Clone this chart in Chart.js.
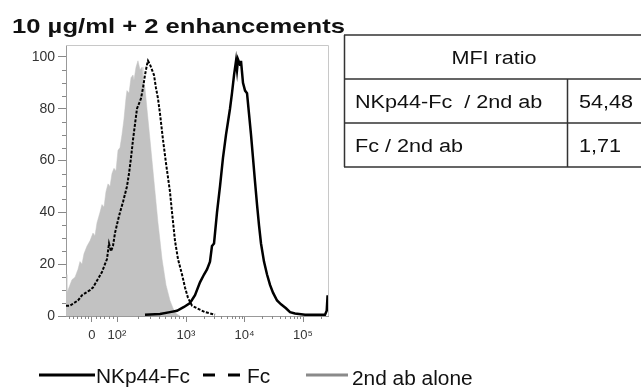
<!DOCTYPE html>
<html>
<head>
<meta charset="utf-8">
<script src="https://cdn.jsdelivr.net/npm/chart.js@4.4.0/dist/chart.umd.min.js"></script>
<style>
  html, body { margin: 0; padding: 0; background: #fff; }
  #wrap { width: 641px; height: 390px; }
</style>
</head>
<body>
<div id="wrap"><canvas id="histo" width="641" height="390"></canvas></div>
<script>
const titleText = '10 µg/ml + 2 enhancements';
const seriesNames = ['NKp44-Fc', 'Fc', '2nd ab alone'];

// x is in display units of the biexponential axis (10^3 = 3, 10^4 = 4, 10^5 = 5), y in % of mode
const nkpX = [2.299, 2.556, 2.726, 2.846, 2.966, 3.068, 3.154, 3.239, 3.308, 3.359, 3.41, 3.444, 3.479, 3.53,
  3.581, 3.632, 3.684, 3.718, 3.752, 3.786, 3.821, 3.855, 3.872, 3.889, 3.923, 3.94, 3.974, 4.009, 4.043,
  4.077, 4.111, 4.145, 4.179, 4.214, 4.248, 4.282, 4.333, 4.385, 4.436, 4.487, 4.556, 4.624, 4.709, 4.778,
  4.863, 5.034, 5.376, 5.405, 5.42];
const nkpY = [0.5, 0.8, 1.5, 2, 3.5, 5, 8, 13, 16, 18, 21, 27, 28, 40,
  50, 61, 70, 75, 80, 86, 93, 98.5, 95, 99, 97, 98.5, 90, 87, 86,
  78, 70, 61, 52, 43, 35, 28, 21, 16, 12, 9, 6, 4.5, 3, 1.5,
  1, 0.5, 0.5, 2, 8];

const fcX = [0.949, 1.017, 1.085, 1.154, 1.222, 1.291, 1.359, 1.41, 1.462, 1.513, 1.564, 1.615, 1.65, 1.684,
  1.718, 1.752, 1.786, 1.838, 1.872, 1.923, 1.957, 1.991, 2.026, 2.06, 2.094, 2.128, 2.162, 2.197, 2.231,
  2.265, 2.299, 2.333, 2.35, 2.385, 2.419, 2.453, 2.487, 2.521, 2.556, 2.607, 2.658, 2.726, 2.761, 2.812,
  2.863, 2.932, 2.983, 3.034, 3.103, 3.188, 3.325, 3.496];
const fcY = [4, 4, 5, 6, 8, 9, 10, 11, 13, 15, 17, 20, 22, 28,
  25, 27, 32, 37, 40, 44, 47, 50, 55, 61, 68, 74, 80, 82, 84,
  88, 93, 97, 98.5, 97, 95, 93, 88, 84, 78, 68, 59, 48, 40, 29,
  22, 16, 11, 7, 4, 3, 1.5, 0.5];

const abX = [0.949, 0.966, 1.0, 1.051, 1.103, 1.154, 1.188, 1.222, 1.256, 1.308, 1.359, 1.41, 1.444, 1.479,
  1.53, 1.564, 1.598, 1.632, 1.667, 1.701, 1.735, 1.769, 1.803, 1.838, 1.872, 1.906, 1.94, 1.974, 1.991,
  2.026, 2.06, 2.094, 2.111, 2.145, 2.179, 2.214, 2.248, 2.265, 2.299, 2.333, 2.35, 2.385, 2.419, 2.453,
  2.487, 2.521, 2.556, 2.59, 2.624, 2.658, 2.692, 2.726, 2.778, 2.829, 2.897];
const abY = [16, 9, 11, 14, 15, 18, 21, 20, 24, 27, 29, 32, 31, 36,
  40, 43, 42, 48, 51, 50, 55, 57, 56, 64, 65, 70, 76, 84, 87,
  86, 92, 93, 91, 96, 98.5, 95, 96, 91, 88, 80, 76, 68, 60, 52,
  44, 36, 29, 22, 17, 12, 9, 6, 3, 1, 0];

const xTickValues = [1.393, 1.821, 3, 4, 5];
const xTickLabels = ['0', '10²', '10³', '10⁴', '10⁵'];
const xMinorTicks = [1.0, 1.07, 1.14, 1.2, 1.27, 1.33, 1.46, 1.53, 1.6, 1.68, 1.75,
  2.176, 2.383, 2.531, 2.645, 2.738, 2.817, 2.886, 2.946,
  3.301, 3.477, 3.602, 3.699, 3.778, 3.845, 3.903, 3.954,
  4.301, 4.477, 4.602, 4.699, 4.778, 4.845, 4.903, 4.954, 5.301];
const yTickValues = [0, 20, 40, 60, 80, 100];
const yMinorTicks = [5, 10, 15, 25, 30, 35, 45, 50, 55, 65, 70, 75, 85, 90, 95];

const tableHeader = 'MFI ratio';
const tableRows = ['NKp44-Fc  / 2nd ab', 'Fc / 2nd ab'];
const tableValues = ['54,48', '1,71'];

const FONT = "'Liberation Sans', Arial, sans-serif";

const toPts = (xs, ys) => xs.map((x, i) => ({ x: x, y: ys[i] }));

// the source figure is a bit stretched sideways, so text gets a horizontal scale
function wideText(ctx, text, x, y, stretch, align) {
  ctx.save();
  ctx.translate(x, y);
  ctx.scale(stretch, 1);
  ctx.textAlign = align || 'left';
  ctx.fillText(text, 0, 0);
  ctx.restore();
}

const extras = {
  id: 'extras',
  afterDraw(chart) {
    const ctx = chart.ctx;
    const area = chart.chartArea;
    const xs = chart.scales.x, ys = chart.scales.y;

    // light frame on top / right of plot
    ctx.save();
    ctx.strokeStyle = '#c8c8c8';
    ctx.lineWidth = 1;
    ctx.beginPath();
    ctx.moveTo(area.left, area.top + 0.5);
    ctx.lineTo(area.right + 0.5, area.top + 0.5);
    ctx.lineTo(area.right + 0.5, area.bottom);
    ctx.stroke();

    // minor ticks
    ctx.strokeStyle = '#888';
    ctx.beginPath();
    xMinorTicks.forEach(v => {
      const px = Math.round(xs.getPixelForValue(v)) + 0.5;
      ctx.moveTo(px, area.bottom);
      ctx.lineTo(px, area.bottom + 3);
    });
    yMinorTicks.forEach(v => {
      const py = Math.round(ys.getPixelForValue(v)) + 0.5;
      ctx.moveTo(area.left, py);
      ctx.lineTo(area.left - 4, py);
    });
    ctx.stroke();
    ctx.restore();

    // title
    ctx.save();
    ctx.fillStyle = '#111';
    ctx.textBaseline = 'alphabetic';
    ctx.font = 'bold 21px ' + FONT;
    wideText(ctx, titleText, 12, 33, 1.22);

    // table
    ctx.strokeStyle = '#333';
    ctx.lineWidth = 1.5;
    ctx.beginPath();
    [35, 79, 123, 167].forEach(y => { ctx.moveTo(344, y); ctx.lineTo(641, y); });
    ctx.moveTo(344.5, 35); ctx.lineTo(344.5, 167);
    ctx.moveTo(567.5, 79); ctx.lineTo(567.5, 167);
    ctx.stroke();
    ctx.font = '18px ' + FONT;
    ctx.fillStyle = '#111';
    wideText(ctx, tableHeader, 494, 64, 1.2, 'center');
    tableRows.forEach((r, i) => {
      wideText(ctx, r, 355, 108 + i * 44, 1.2);
      wideText(ctx, tableValues[i], 579, 108 + i * 44, 1.2);
    });

    // legend
    const ly = 375;
    ctx.lineCap = 'butt';
    ctx.lineWidth = 3;
    ctx.strokeStyle = '#000';
    ctx.beginPath(); ctx.moveTo(39, ly); ctx.lineTo(95, ly); ctx.stroke();
    ctx.beginPath();
    ctx.moveTo(203, ly); ctx.lineTo(215, ly);
    ctx.moveTo(228, ly); ctx.lineTo(240, ly);
    ctx.stroke();
    ctx.strokeStyle = '#8a8a8a';
    ctx.beginPath(); ctx.moveTo(306, ly); ctx.lineTo(348, ly); ctx.stroke();
    ctx.font = '19.5px ' + FONT;
    ctx.fillStyle = '#111';
    wideText(ctx, seriesNames[0], 96, 383, 1.07);
    wideText(ctx, seriesNames[1], 247, 383, 1.07);
    wideText(ctx, seriesNames[2], 352, 385, 1.07);
    ctx.restore();
  }
};

new Chart(document.getElementById('histo'), {
  type: 'line',
  data: {
    datasets: [
      {
        label: seriesNames[0],
        data: toPts(nkpX, nkpY),
        borderColor: '#000',
        borderWidth: 2.5,
        pointRadius: 0,
        fill: false,
        tension: 0
      },
      {
        label: seriesNames[1],
        data: toPts(fcX, fcY),
        borderColor: '#000',
        borderWidth: 2,
        borderDash: [3, 1.5],
        pointRadius: 0,
        fill: false,
        tension: 0
      },
      {
        label: seriesNames[2],
        data: toPts(abX, abY),
        borderColor: '#c2c2c2',
        backgroundColor: '#c2c2c2',
        borderWidth: 0.5,
        pointRadius: 0,
        fill: 'origin',
        tension: 0
      }
    ]
  },
  options: {
    responsive: false,
    animation: false,
    devicePixelRatio: 1,
    layout: { padding: { left: 0, top: 45, right: 313, bottom: 0 } },
    plugins: {
      legend: { display: false },
      tooltip: { enabled: false },
      title: { display: false }
    },
    scales: {
      x: {
        type: 'linear',
        min: 0.949,
        max: 5.427,
        afterBuildTicks: s => { s.ticks = xTickValues.map(v => ({ value: v })); },
        afterFit: s => { s.height = 74; },
        ticks: {
          autoSkip: false,
          maxRotation: 0,
          padding: 6,
          color: '#333',
          font: { family: FONT, size: 13 },
          callback: v => xTickLabels[xTickValues.indexOf(v)]
        },
        grid: { drawOnChartArea: false, tickLength: 6, tickColor: '#888' },
        border: { color: '#999' }
      },
      y: {
        min: 0,
        max: 104.6,
        afterBuildTicks: s => { s.ticks = yTickValues.map(v => ({ value: v })); },
        afterFit: s => { s.width = 66; },
        ticks: {
          padding: 3,
          color: '#333',
          font: { family: FONT, size: 14 },
          callback: v => v
        },
        grid: { drawOnChartArea: false, tickLength: 8, tickColor: '#888' },
        border: { color: '#999' }
      }
    }
  },
  plugins: [extras]
});
</script>
</body>
</html>
